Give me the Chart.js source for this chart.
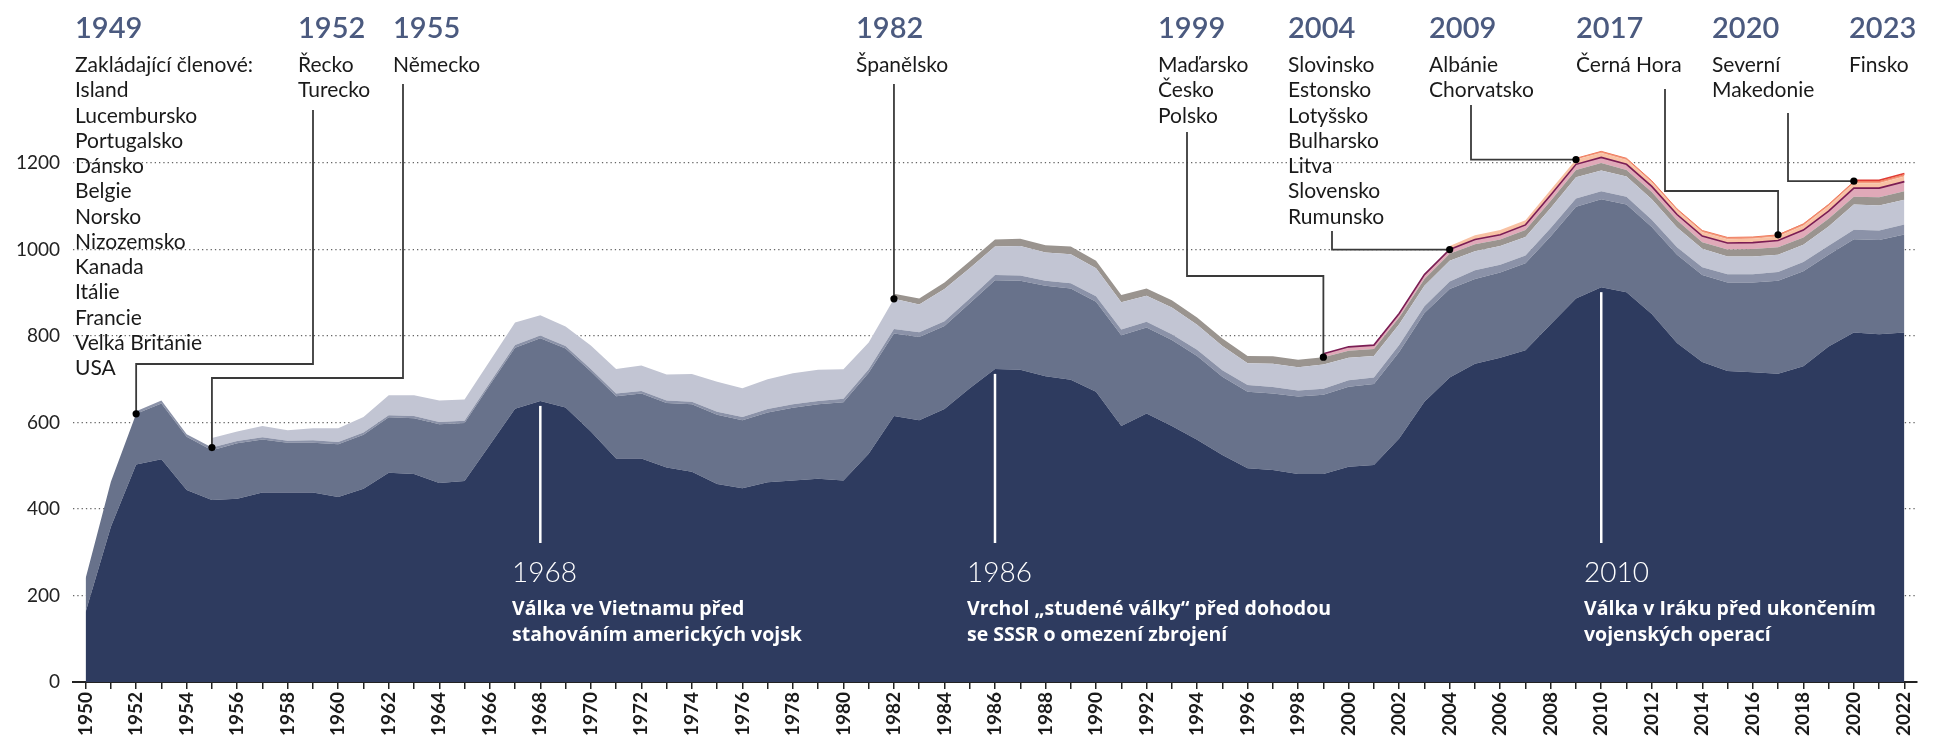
<!DOCTYPE html>
<html lang="cs">
<head>
<meta charset="utf-8">
<title>Výdaje NATO na obranu</title>
<script src="https://cdn.jsdelivr.net/npm/chart.js@4.4.1/dist/chart.umd.min.js"></script>
<style>
    html, body { margin: 0; padding: 0; background: #fff; }
    .chart-wrap { position: relative; width: 1937px; height: 737px; }
</style>
</head>
<body>
<div class="chart-wrap"><canvas id="natoChart"></canvas></div>
<script>
// ===================================
// DATA (mld. USD), roky 1950-2022
// ===================================
const years = [];
for (let y = 1950; y <= 2022; y++) years.push(y);

const usa = [162,359,503,515,444,421,424,438,438,438,
    428,447,484,481,460,465,548,632,650,635,
    579,517,517,496,486,458,448,462,466,470,
    466,528,615,605,631,679,724,722,707,699,
    671,592,621,592,560,525,494,490,481,481,
    498,502,563,648,704,736,750,767,827,887,
    913,901,851,784,740,719,716,713,730,776,
    808,804,808];

const founding = [78,104,117,129,123,115,128,123,115,115,
    122,125,128,129,136,134,139,141,145,136,
    139,144,150,149,156,160,157,161,168,172,
    181,187,191,193,192,197,205,206,209,211,
    208,210,199,199,194,181,177,177,179,183,
    185,187,200,205,205,196,197,201,204,212,
    203,203,201,204,201,205,208,215,220,212,
    216,218,227];

const join1952 = [null,null,6,7,6,6,5,5,5,6,
    5,5,5,5,5,5,5,6,6,6,
    6,6,6,6,6,7,8,8,8,8,
    8,8,10,11,11,11,12,12,12,12,
    13,13,13,13,14,15,16,15,14,14,
    15,15,16,16,17,20,18,18,19,19,
    19,18,17,17,18,19,19,20,21,21,
    22,22,23];

const join1955 = [null,null,null,null,null,22,22,26,24,28,
    32,36,46,48,50,49,50,52,47,45,
    54,57,59,60,64,69,66,69,72,72,
    68,62,70,64,75,70,66,68,65,67,
    65,63,60,62,58,56,50,54,54,56,
    52,50,48,47,48,44,43,43,46,49,
    48,47,47,46,43,41,41,40,40,44,
    58,58,57];

const join1982 = [null,null,null,null,null,null,null,null,null,null,
    null,null,null,null,null,null,null,null,null,null,
    null,null,null,null,null,null,null,null,null,null,
    null,null,12,14,15,16,16,17,17,18,
    17,17,17,17,17,17,17,17,17,17,
    16,16,16,16,16,16,15,16,17,17,
    17,15,17,17,15,16,17,17,17,18,
    18,19,20];

const join1999 = years.map(() => null);
[8,9,9,9,10,10,11,11,12,13,13,13,13,13,13,14,15,15,16,17,18,20,21,22]
    .forEach((v, i) => { join1999[49 + i] = v; });

const join2004 = years.map(() => null);
[8,10,11,11,12,11,10,10,9,9,9,9,9,9,10,11,11,11,12]
    .forEach((v, i) => { join2004[54 + i] = v; });

const join2009 = years.map(() => null);
[3,4,4,4,4,4,4,4,4,4,4,4,4,4]
    .forEach((v, i) => { join2009[59 + i] = v; });

const join2017 = years.map(() => null);
[1,1,1,1,1,1].forEach((v, i) => { join2017[67 + i] = v; });

const join2020 = years.map(() => null);
[2,2,2].forEach((v, i) => { join2020[70 + i] = v; });

const yTicks = [0, 200, 400, 600, 800, 1000, 1200];

// ===================================
// VRSTVY
// ===================================
const layers = [
    { label: 'USA', data: usa, color: '#2e3b5f' },
    { label: 'Zakládající členové', data: founding, color: '#68728b' },
    { label: '1952', data: join1952, color: '#8b92a8' },
    { label: '1955', data: join1955, color: '#c2c5d3' },
    { label: '1982', data: join1982, color: '#9a948f' },
    { label: '1999', data: join1999, color: '#e0a9b8', border: '#7b1d54', bw: 1.6 },
    { label: '2004', data: join2004, color: '#f8c2a4' },
    { label: '2009', data: join2009, color: '#f4a083', border: '#ef7b5e', bw: 1 },
    { label: '2017', data: join2017, color: '#ef8165' },
    { label: '2020', data: join2020, color: '#e8503f', border: '#e03c35', bw: 1.5 }
];

// Popisky vstupů do NATO
const joins = [
    { head: '1949', x: 75, names: ['Zakládající členové:', 'Island', 'Lucembursko', 'Portugalsko', 'Dánsko', 'Belgie', 'Norsko', 'Nizozemsko', 'Kanada', 'Itálie', 'Francie', 'Velká Británie', 'USA'] },
    { head: '1952', x: 298, names: ['Řecko', 'Turecko'], year: 1952, below: 2, lineX: 313, lineTop: 110, elbowY: 364 },
    { head: '1955', x: 393, names: ['Německo'], year: 1955, below: 3, lineX: 403, lineTop: 84, elbowY: 378 },
    { head: '1982', x: 856, names: ['Španělsko'], year: 1982, below: 4, lineX: null, lineTop: 84, elbowY: null },
    { head: '1999', x: 1158, names: ['Maďarsko', 'Česko', 'Polsko'], year: 1999, below: 5, lineX: 1187, lineTop: 132, elbowY: 276 },
    { head: '2004', x: 1288, names: ['Slovinsko', 'Estonsko', 'Lotyšsko', 'Bulharsko', 'Litva', 'Slovensko', 'Rumunsko'], year: 2004, below: 6, lineX: 1332, lineTop: 231, elbowY: null },
    { head: '2009', x: 1429, names: ['Albánie', 'Chorvatsko'], year: 2009, below: 7, lineX: 1471, lineTop: 105, elbowY: null },
    { head: '2017', x: 1576, names: ['Černá Hora'], year: 2017, below: 8, lineX: 1665, lineTop: 89, elbowY: 191 },
    { head: '2020', x: 1712, names: ['Severní', 'Makedonie'], year: 2020, below: 9, lineX: 1788, lineTop: 113, elbowY: null },
    { head: '2023', x: 1849, names: ['Finsko'] }
];

// Historické události
const events = [
    { year: 1968, x: 512, lines: ['Válka ve Vietnamu před', 'stahováním amerických vojsk'] },
    { year: 1986, x: 967, lines: ['Vrchol „studené války“ před dohodou', 'se SSSR o omezení zbrojení'] },
    { year: 2010, x: 1584, lines: ['Válka v Iráku před ukončením', 'vojenských operací'] }
];

/**
 * Součet prvních n vrstev v daném roce
 */
function stackTop(n, idx) {
    let sum = 0;
    for (let i = 0; i < n; i++) sum += layers[i].data[idx] || 0;
    return sum;
}

const FONT = 'Lato, "Open Sans", sans-serif';
const BOLD_FONT = '"Open Sans", Lato, sans-serif';

const annotationPlugin = {
    id: 'annotations',
    afterDatasetsDraw(chart) {
        const { ctx, scales: { x, y } } = chart;
        ctx.save();

        // Bílé čáry a texty událostí
        events.forEach(ev => {
            const idx = years.indexOf(ev.year);
            const px = x.getPixelForValue(idx);
            const top = y.getPixelForValue(usa[idx]) + 5;
            ctx.strokeStyle = '#ffffff';
            ctx.lineWidth = 2.5;
            ctx.beginPath();
            ctx.moveTo(px, top);
            ctx.lineTo(px, 543);
            ctx.stroke();

            ctx.fillStyle = '#ffffff';
            ctx.textBaseline = 'alphabetic';
            ctx.textAlign = 'left';
            ctx.font = '300 28px ' + FONT;
            ctx.fillText(String(ev.year), ev.x, 582);
            ctx.font = '700 19.5px ' + BOLD_FONT;
            ev.lines.forEach((line, i) => ctx.fillText(line, ev.x, 615 + i * 25.5));
        });

        // Nadpisy, státy a odkazové čáry
        joins.forEach(j => {
            ctx.fillStyle = '#4b5a7f';
            ctx.font = '600 29px ' + FONT;
            ctx.fillText(j.head, j.x, 38);
            ctx.fillStyle = '#1a1a1a';
            ctx.font = '21px ' + FONT;
            j.names.forEach((name, i) => ctx.fillText(name, j.x, 72 + i * 25.25));

            if (!j.year) return;
            const idx = years.indexOf(j.year);
            const dotX = x.getPixelForValue(idx);
            const dotY = y.getPixelForValue(stackTop(j.below, idx));
            const lx = j.lineX === null ? dotX : j.lineX;

            ctx.strokeStyle = '#3a3a3a';
            ctx.lineWidth = 1.8;
            ctx.beginPath();
            ctx.moveTo(lx, j.lineTop);
            if (j.elbowY === null) {
                ctx.lineTo(lx, dotY);
                ctx.lineTo(dotX, dotY);
            } else {
                ctx.lineTo(lx, j.elbowY);
                ctx.lineTo(dotX, j.elbowY);
                ctx.lineTo(dotX, dotY);
            }
            ctx.stroke();

            ctx.fillStyle = '#000000';
            ctx.beginPath();
            ctx.arc(dotX, dotY, 3.6, 0, Math.PI * 2);
            ctx.fill();
        });

        ctx.restore();
    }
};

document.addEventListener('DOMContentLoaded', () => {
    const ctx = document.getElementById('natoChart');

    new Chart(ctx, {
        type: 'line',
        data: {
            labels: years.map(String),
            datasets: layers.map((layer, i) => ({
                label: layer.label,
                data: layer.data,
                backgroundColor: layer.color,
                borderColor: layer.border || layer.color,
                borderWidth: layer.bw || 0,
                fill: i === 0 ? 'origin' : '-1',
                pointRadius: 0,
                pointHitRadius: 0,
                tension: 0
            }))
        },
        options: {
            responsive: true,
            maintainAspectRatio: false,
            animation: false,
            layout: { padding: { top: 0, right: 20, left: 0, bottom: 0 } },
            plugins: {
                legend: { display: false },
                tooltip: { enabled: false }
            },
            scales: {
                x: {
                    offset: true,
                    afterFit: scale => {
                        scale.height = 55;
                        scale.paddingLeft = 0;
                        scale.paddingRight = 0;
                    },
                    grid: {
                        offset: false,
                        drawOnChartArea: false,
                        drawTicks: true,
                        tickLength: 7,
                        color: '#222',
                        lineWidth: 1.5
                    },
                    border: { display: true, color: '#222', width: 2 },
                    ticks: {
                        autoSkip: false,
                        minRotation: 90,
                        maxRotation: 90,
                        padding: 3,
                        color: '#1b1b1b',
                        font: { family: FONT, size: 19, weight: '700' },
                        callback: (val, i) => years[i] % 2 === 0 ? String(years[i]) : ''
                    }
                },
                y: {
                    stacked: true,
                    min: 0,
                    max: 1577,
                    afterFit: scale => {
                        scale.width = 73;
                        scale.paddingTop = 0;
                        scale.paddingBottom = 0;
                    },
                    afterBuildTicks: scale => {
                        scale.ticks = yTicks.map(v => ({ value: v }));
                    },
                    grid: {
                        drawTicks: false,
                        color: '#666',
                        lineWidth: 1.3
                    },
                    border: { display: false, dash: [1.3, 3] },
                    ticks: {
                        padding: 13,
                        color: '#222',
                        font: { family: FONT, size: 19 },
                        callback: value => String(value)
                    }
                }
            }
        },
        plugins: [annotationPlugin]
    });
});
</script>
</body>
</html>
